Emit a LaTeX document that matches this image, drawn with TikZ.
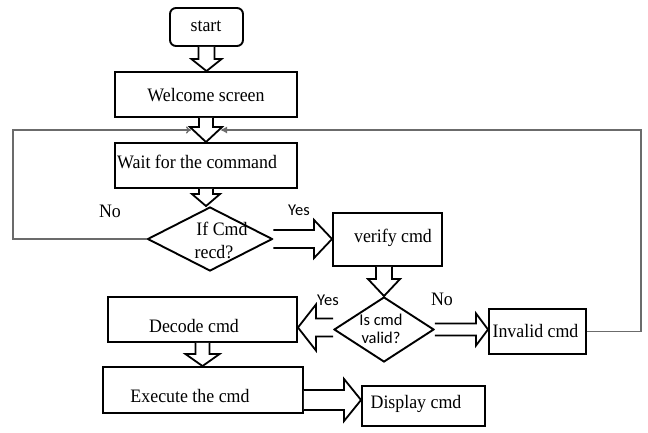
\documentclass[tikz,border=0pt]{standalone}
\usepackage{fontspec}
\setmainfont{Liberation Serif}[FakeStretch=0.94]
\newfontfamily\calib{Carlito}
\usetikzlibrary{shapes.geometric,arrows.meta,calc}
\newcommand{\blkdown}[5]{%
  \draw[blk] let \p1=(#1), \p2=(#2) in
   (\x1-#3pt,\y1) -- (\x1-#3pt,\y2+#5pt) -- (\x1-#4pt,\y2+#5pt) -- (\x1,\y2)
   -- (\x1+#4pt,\y2+#5pt) -- (\x1+#3pt,\y2+#5pt) -- (\x1+#3pt,\y1);}
\newcommand{\blkright}[5]{%
  \draw[blk] let \p1=(#1), \p2=(#2) in
   (\x1,\y1+#3pt) -- (\x2-#5pt,\y1+#3pt) -- (\x2-#5pt,\y1+#4pt) -- (\x2,\y1)
   -- (\x2-#5pt,\y1-#4pt) -- (\x2-#5pt,\y1-#3pt) -- (\x1,\y1-#3pt);}
\newcommand{\blkleft}[5]{%
  \draw[blk] let \p1=(#1), \p2=(#2) in
   (\x1,\y1+#3pt) -- (\x2+#5pt,\y1+#3pt) -- (\x2+#5pt,\y1+#4pt) -- (\x2,\y1)
   -- (\x2+#5pt,\y1-#4pt) -- (\x2+#5pt,\y1-#3pt) -- (\x1,\y1-#3pt);}
\tikzset{
  box/.style={draw, line width=1.9pt, inner sep=0pt},
  dia/.style={draw, diamond, line width=1.9pt, inner sep=0pt},
  blk/.style={draw, line width=1.8pt, fill=white, line join=miter},
  fb/.style={draw=black!58, line width=1.3pt},
  txt/.style={font=\fontsize{19}{21}\selectfont, inner sep=0pt, anchor=base},
  stxt/.style={font=\calib\fontsize{16.5}{18}\selectfont, inner sep=0pt, anchor=base},
}
\begin{document}
\begin{tikzpicture}[x=1pt,y=-1pt]
\useasboundingbox (0,0) rectangle (648,432);
% boxes
\node[box, rounded corners=6pt, minimum width=73pt, minimum height=38pt] (start) at (206.5,27) {};
\node[box, minimum width=182pt, minimum height=45pt] (welcome) at (206,94.5) {};
\node[box, minimum width=182pt, minimum height=45pt] (wait) at (206,165.5) {};
\node[dia, minimum width=125pt, minimum height=64pt] (d1) at (210,239) {};
\node[box, minimum width=109pt, minimum height=53pt] (verify) at (387.5,239.5) {};
\node[dia, minimum width=100pt, minimum height=65pt] (d2) at (384,329.5) {};
\node[box, minimum width=97pt, minimum height=45pt] (invalid) at (537.5,331.5) {};
\node[box, minimum width=189pt, minimum height=45pt] (decode) at (202.5,319.5) {};
\node[box, minimum width=200pt, minimum height=46pt] (exec) at (203,390) {};
\node[box, minimum width=123pt, minimum height=40pt] (display) at (423.5,406) {};
% feedback lines
\coordinate (lc) at (13,130);
\coordinate (rc) at (641,130);
\coordinate (fbL) at (191,130);
\coordinate (fbR) at (220,130);
\draw[fb, -{To[length=5pt,width=7pt]}] (d1.west) -| (lc) -- (fbL);
\draw[fb, -{Latex[length=7pt,width=7pt]}] (invalid.east) -| (rc) -- (fbR);
% block arrows
\blkdown{start.south}{welcome.north}{8}{15}{12}
\blkdown{welcome.south}{welcome.south |- wait.north}{7}{16}{15}
\blkdown{wait.south}{d1.north}{7}{14}{12}
\blkright{d1.east}{verify.west}{9}{19}{18}
\blkdown{verify.south -| d2.north}{d2.north}{8}{16}{17}
\blkleft{$(d2.west)+(0,-2)$}{decode.east}{9}{23}{18}
\blkright{d2.east}{invalid.west}{6}{16}{12}
\blkdown{decode.south}{exec.north}{7}{17}{12}
\blkright{$(exec.east)+(0,10)$}{display.west}{10}{21}{17}
% texts
\node[txt] (tstart) at (206,31) {start};
\node[txt] (twelcome) at (206,101) {Welcome screen};
\node[txt, anchor=base west] (twait) at (117,168) {Wait for the command};
\node[txt] (td1a) at (222,235) {If Cmd};
\node[txt] (td1b) at (214,258) {recd?};
\node[txt] (tno1) at (110,217) {No};
\node[stxt] (tyes1) at (299,215) {Yes};
\node[txt] (tverify) at (393,242) {verify cmd};
\node[stxt] (tyes2) at (328,305) {Yes};
\node[txt] (tno2) at (442,305) {No};
\node[stxt] (td2a) at (381,325) {Is cmd};
\node[stxt] (td2b) at (381,343) {valid?};
\node[txt] (tinvalid) at (535.5,337) {Invalid cmd};
\node[txt] (tdecode) at (194,332) {Decode cmd};
\node[txt] (texec) at (190,402) {Execute the cmd};
\node[txt] (tdisplay) at (416,408) {Display cmd};
\end{tikzpicture}
\end{document}
